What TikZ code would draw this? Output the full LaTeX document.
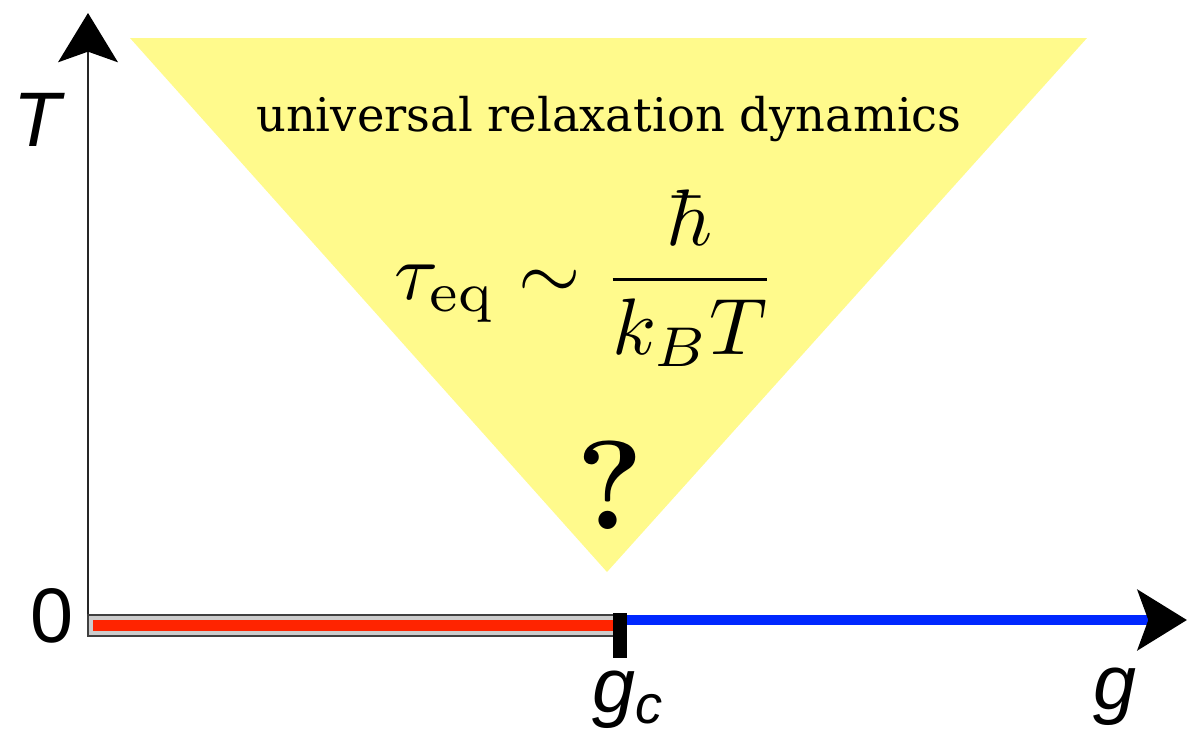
\documentclass[tikz,border=0pt]{standalone}
\usepackage{fontspec}
\newfontfamily\axisfont{Liberation Sans}
\newfontfamily\regimefont{DejaVu Serif}
\usetikzlibrary{arrows.meta}
\definecolor{fanyellow}{RGB}{255,250,140}
\definecolor{orderred}{RGB}{255,36,0}
\definecolor{disorderblue}{RGB}{0,40,255}
\begin{document}
\begin{tikzpicture}[
		axis/.style={draw=black!85, line width=0.7pt, -{Stealth[black, length=14pt, width=17pt, inset=3pt]}},
		axislabel/.style={font=\axisfont\fontsize{22}{26}\selectfont, inner sep=0pt},
		phase/.style={line width=2.8pt},
	]
	\useasboundingbox (0,0) rectangle (11.88,7.35);

	% quantum critical fan above g_c
	\fill[fanyellow] (1.30,6.97) -- (10.87,6.97) -- (6.07,1.63) -- cycle;

	% axes
	\coordinate (O)    at (0.88,1.15);
	\coordinate (Ttip) at (0.88,7.22);
	\coordinate (gc)   at (6.23,1.15);
	\coordinate (gtip) at (11.87,1.15);
	\draw[axis] (O) -- (Ttip);

	% ordered phase for g < g_c
	\draw[draw=black!75, line width=0.5pt, fill=black!20] (0.88,0.99) rectangle (6.21,1.20);
	\fill[orderred] (0.93,1.04) rectangle (6.18,1.15);

	% disordered phase for g > g_c
	\draw[axis, phase, draw=disorderblue] (gc) -- (gtip);

	% critical point
	\fill[black] (6.13,0.77) rectangle (6.27,1.22);

	% labels
	\node[axislabel, anchor=north] (Tlab)  at (0.37,6.42) {\itshape T};
	\node[axislabel]               (zero)  at (0.52,1.19) {0};
	\node[axislabel, anchor=north] (gclab) at (6.28,0.65) {\itshape g\textsubscript{c}};
	\node[axislabel, anchor=north] (glab)  at (11.15,0.68) {\itshape g};

	% texts in the fan
	\node[font=\regimefont\fontsize{13.2}{16}\selectfont] (regime) at (6.09,6.16) {universal relaxation dynamics};
	\node (tau) at (5.86,4.57) {\scalebox{2.28}{$\displaystyle \tau_{\mathrm{eq}} \sim \frac{\hbar}{k_B T}$}};
	\node[font=\bfseries\fontsize{36}{40}\selectfont] (query) at (6.10,2.50) {?};
\end{tikzpicture}
\end{document}
